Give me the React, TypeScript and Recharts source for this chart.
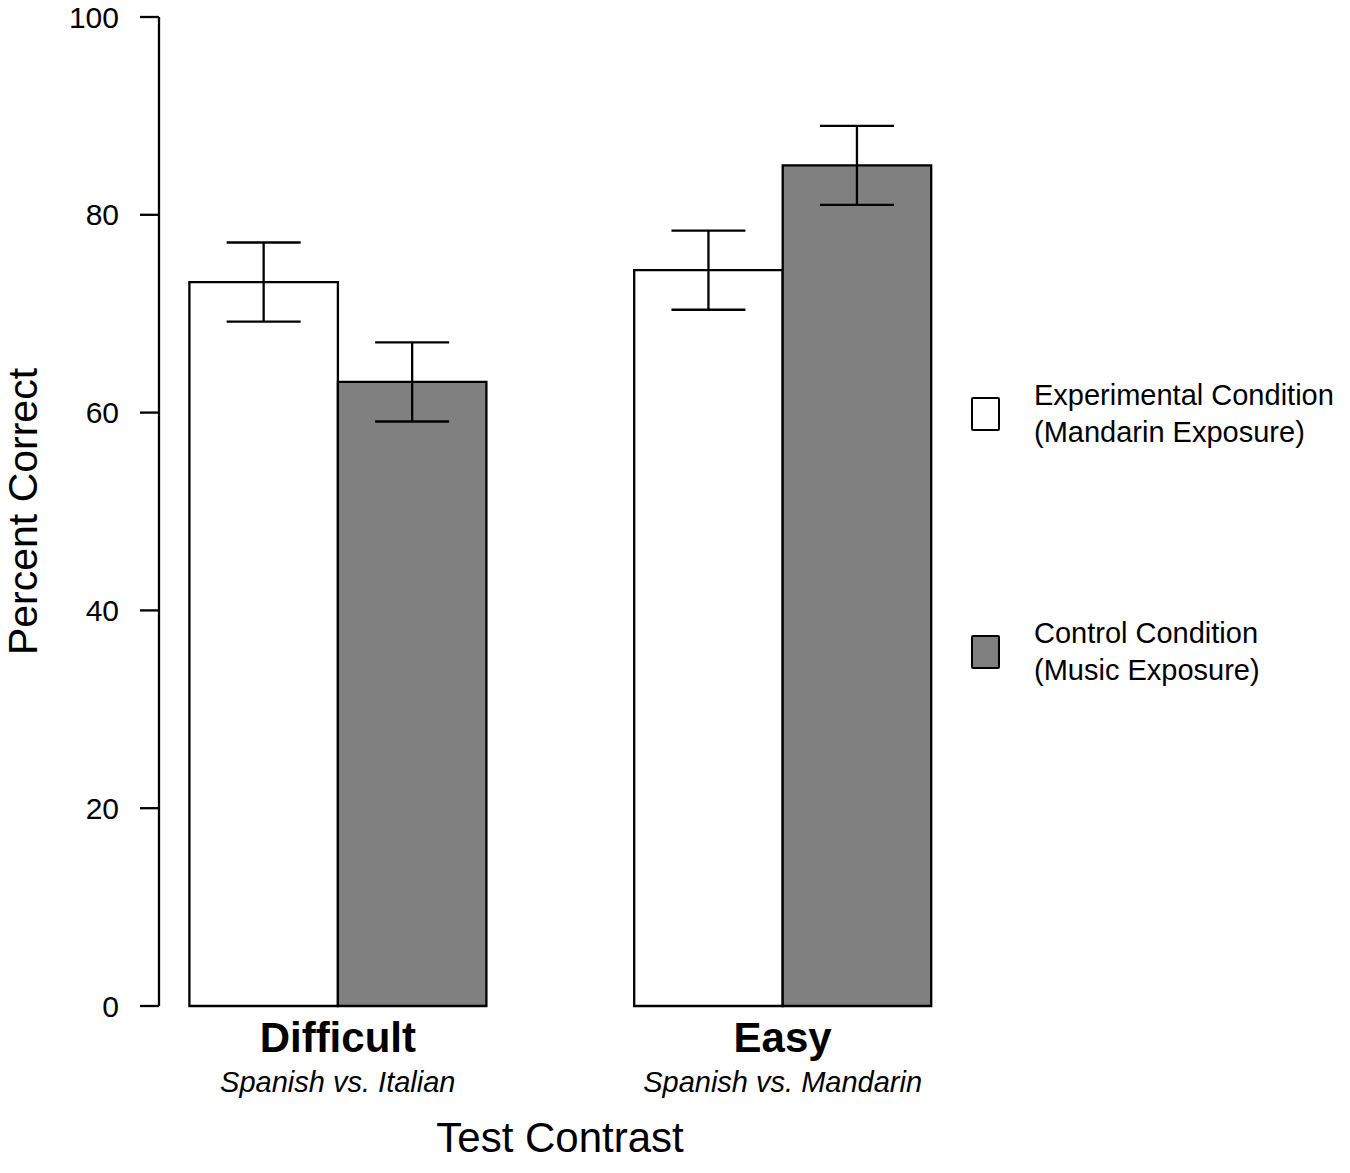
import React from 'react';
import { BarChart, Bar, XAxis, YAxis, ErrorBar, Legend } from 'recharts';

const categories = ['Difficult', 'Easy'];
const subLabels = ['Spanish vs. Italian', 'Spanish vs. Mandarin'];
const experimental = [73.2, 74.4];
const experimentalErr = [4.0, 4.0];
const control = [63.1, 85.0];
const controlErr = [4.0, 4.0];
const yTicks = [0, 20, 40, 60, 80, 100];
const seriesKeys = ['exp', 'ctrl'];
const seriesNames = ['Experimental Condition', 'Control Condition'];
const seriesSubNames = ['(Mandarin Exposure)', '(Music Exposure)'];
const seriesFills = ['#ffffff', '#808080'];

const data = categories.map((c, i) => ({
  category: c,
  sub: subLabels[i],
  exp: experimental[i],
  expErr: experimentalErr[i],
  ctrl: control[i],
  ctrlErr: controlErr[i],
}));

const FONT = '"Liberation Sans", Arial, Helvetica, sans-serif';
const LW = 2.3;

const CategoryTick = (props: any) => {
  const { x, y, payload, index } = props;
  return (
    <g>
      <text x={x} y={y + 46} textAnchor="middle" fontFamily={FONT} fontSize={42} fontWeight="bold" fill="#000">
        {payload.value}
      </text>
      <text x={x} y={y + 86} textAnchor="middle" fontFamily={FONT} fontSize={29} fontStyle="italic" fill="#000">
        {subLabels[index]}
      </text>
    </g>
  );
};

const LegendContent = (props: any) => {
  const payload = [...(props.payload || [])].sort(
    (a: any, b: any) => seriesKeys.indexOf(a.dataKey) - seriesKeys.indexOf(b.dataKey)
  );
  return (
    <div style={{ fontFamily: FONT, fontSize: 29, lineHeight: '37px', color: '#000', textAlign: 'left' }}>
      {payload.map((p: any, i: number) => {
        const k = seriesKeys.indexOf(p.dataKey);
        return (
          <div key={i} style={{ display: 'flex', alignItems: 'center', marginBottom: i === 0 ? 164 : 0 }}>
            <div
              style={{
                width: 29,
                height: 34,
                boxSizing: 'border-box',
                border: '2px solid #000',
                borderRadius: 2,
                background: seriesFills[k],
                marginRight: 34,
                flexShrink: 0,
              }}
            />
            <div style={{ whiteSpace: 'nowrap' }}>
              <div>{p.value}</div>
              <div>{seriesSubNames[k]}</div>
            </div>
          </div>
        );
      })}
    </div>
  );
};

export default function App() {
  return (
    <div style={{ position: 'absolute', left: 0, top: 0, width: 1350, height: 1173, background: '#fff' }}>
      <BarChart
        width={1350}
        height={1173}
        data={data}
        margin={{ top: 17, right: 345, bottom: 0, left: 0 }}
        barGap={0}
        barSize={148.5}
      >
        <XAxis
          dataKey="category"
          type="category"
          height={167}
          padding={{ left: -43.6, right: 0 }}
          axisLine={false}
          tickLine={false}
          tickSize={0}
          tickMargin={0}
          tick={<CategoryTick />}
          interval={0}
          label={{
            value: 'Test Contrast',
            position: 'insideBottom',
            offset: 21,
            dx: -22,
            fontFamily: FONT,
            fontSize: 42,
            fill: '#000',
          }}
        />
        <YAxis
          type="number"
          domain={[0, 100]}
          ticks={yTicks}
          width={159}
          tickSize={19}
          tickMargin={21}
          axisLine={{ stroke: '#000', strokeWidth: LW }}
          tickLine={{ stroke: '#000', strokeWidth: LW }}
          tick={{ fontFamily: FONT, fontSize: 30, fill: '#000' }}
          label={{
            value: 'Percent Correct',
            angle: -90,
            position: 'insideLeft',
            offset: 22,
            textAnchor: 'middle',
            fontFamily: FONT,
            fontSize: 41,
            fill: '#000',
          }}
        />
        <Legend
          layout="horizontal"
          verticalAlign="middle"
          align="center"
          content={<LegendContent />}
          wrapperStyle={{ position: 'absolute', left: 971, top: 377, width: 379, right: 'auto', bottom: 'auto' }}
        />
        <Bar dataKey={seriesKeys[0]} name={seriesNames[0]} fill={seriesFills[0]} stroke="#000" strokeWidth={LW} isAnimationActive={false}>
          <ErrorBar dataKey="expErr" width={37} stroke="#000" strokeWidth={LW} direction="y" />
        </Bar>
        <Bar dataKey={seriesKeys[1]} name={seriesNames[1]} fill={seriesFills[1]} stroke="#000" strokeWidth={LW} isAnimationActive={false}>
          <ErrorBar dataKey="ctrlErr" width={37} stroke="#000" strokeWidth={LW} direction="y" />
        </Bar>
      </BarChart>
    </div>
  );
}
